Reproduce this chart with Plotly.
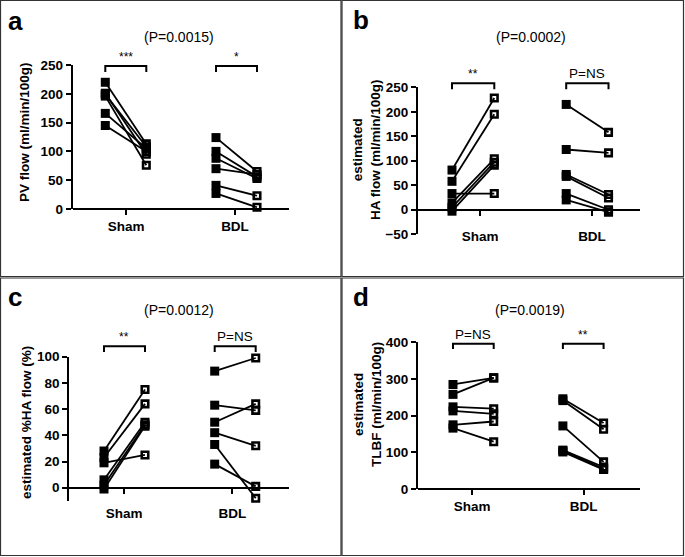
import plotly.graph_objects as go

W, H = 685, 557
FONT = "Liberation Sans, Arial, sans-serif"

groups = ["Sham", "BDL"]

# ---- data (pre = filled square, post = open square) ----
# a: PV flow (ml/min/100g)
a_sham_pre = [220, 201, 196, 166, 145, 199]
a_sham_post = [113, 95, 76, 105, 100, 108]
a_bdl_pre = [124, 100, 88, 70, 41, 27]
a_bdl_post = [65, 56, 53, 60, 23, 3]
# b: estimated HA flow (ml/min/100g)
b_sham_pre = [81, 58, 33, 14, 5, -3]
b_sham_post = [228, 195, 33, 104, 97, 91]
b_bdl_pre = [215, 123, 72, 68, 33, 20]
b_bdl_post = [158, 116, 31, 24, 0, -5]
# c: estimated %HA flow (%)
c_sham_pre = [28, 23, 19, 6, 2, -1]
c_sham_post = [75, 64, 25, 50, 48, 47]
c_bdl_pre = [89, 63, 50, 42, 33, 18]
c_bdl_post = [99, 59, 64, 32, -8, 1]
# d: estimated TLBF (ml/min/100g)
d_sham_pre = [285, 258, 224, 213, 175, 166]
d_sham_post = [303, 303, 219, 205, 184, 129]
d_bdl_pre = [246, 241, 172, 106, 104, 101]
d_bdl_post = [180, 163, 74, 60, 55, 53]

panel_letters = ["a", "b", "c", "d"]
p_titles = ["(P=0.0015)", "(P=0.0002)", "(P=0.0012)", "(P=0.0019)"]
sig_labels = [["***", "*"], ["**", "P=NS"], ["**", "P=NS"], ["P=NS", "**"]]
y_titles = ["PV flow (ml/min/100g)", "estimated<br>HA flow (ml/min/100g)",
            "estimated %HA flow (%)", "estimated<br>TLBF (ml/min/100g)"]
y_ticks = [[0, 50, 100, 150, 200, 250], [-50, 0, 50, 100, 150, 200, 250],
           [0, 20, 40, 60, 80, 100], [0, 100, 200, 300, 400]]
y_ranges = [[0, 250], [-50, 250], [-10, 100], [0, 400]]

data = [
    (a_sham_pre, a_sham_post, a_bdl_pre, a_bdl_post),
    (b_sham_pre, b_sham_post, b_bdl_pre, b_bdl_post),
    (c_sham_pre, c_sham_post, c_bdl_pre, c_bdl_post),
    (d_sham_pre, d_sham_post, d_bdl_pre, d_bdl_post),
]

# x positions of pre/post within each group
XPOS = {"Sham": (0.0, 1.0), "BDL": (2.7, 3.7)}

# layout geometry in pixels
geo = [
    dict(xl=72.7, xr=289, yt=65, yb=209, pre=105.3, unit=41.0, ticks=(126, 235), zero=209, stand=0),
    dict(xl=418, xr=640, yt=87.3, yb=234.2, pre=452, unit=42.3, ticks=(480, 592), zero=209.7, stand=9),
    dict(xl=69.3, xr=288.7, yt=356.7, yb=500.8, pre=104, unit=41.0, ticks=(124, 232.3), zero=487.7, stand=8),
    dict(xl=418, xr=640.3, yt=342.3, yb=489, pre=453, unit=40.7, ticks=(472, 583.7), zero=489, stand=0),
]
# bracket levels (pixels): top line, end of drop
brackets_px = [(66, 72), (83.3, 89.3), (68.3 + 278, 74 + 278), (65.7 + 278, 71 + 278)]
title_pos = [(179, 36.7), (531, 36.7), (179, 309.7), (530, 309.7)]
ytitle_pos = [(25, 132), (366, 149), (26, 423), (367, 405)]
letter_pos = [(6, 21), (351, 20), (6, 297), (351, 297)]

fig = go.Figure()
layout = dict(width=W, height=H,
              margin=dict(l=0, r=0, t=0, b=0, pad=0, autoexpand=False),
              paper_bgcolor="white", plot_bgcolor="white", showlegend=False,
              font=dict(family=FONT, color="black"))
annotations = []
shapes = []


def px(x):
    return x / W


def py(y):
    return 1 - y / H


for i in range(4):
    g = geo[i]
    n = "" if i == 0 else str(i + 1)
    xa, ya = "x" + n, "y" + n
    rng = [(g["xl"] - g["pre"]) / g["unit"], (g["xr"] - g["pre"]) / g["unit"]]
    tv = [(t - g["pre"]) / g["unit"] for t in g["ticks"]]
    layout["xaxis" + n] = dict(
        domain=[px(g["xl"]), px(g["xr"])], range=rng, anchor="free",
        position=py(g["zero"]), tickvals=tv, ticktext=groups,
        showline=True, linewidth=2, linecolor="black", ticks="outside",
        ticklen=5, tickwidth=2, tickcolor="black", showgrid=False, zeroline=False,
        tickfont=dict(family=FONT, size=13.5, color="black", weight="bold"),
        ticklabelstandoff=g["stand"], fixedrange=True, automargin=False)
    layout["yaxis" + n] = dict(
        domain=[py(g["yb"]), py(g["yt"])], range=y_ranges[i], anchor=xa,
        tickvals=y_ticks[i], showline=True, linewidth=2, linecolor="black",
        ticks="outside", ticklen=5, tickwidth=2, tickcolor="black",
        showgrid=False, zeroline=False,
        tickfont=dict(family=FONT, size=13.5, color="black", weight="bold"),
        fixedrange=True, automargin=False)

    sp, so, bp, bo = data[i]
    top_px, drop_px = brackets_px[i]
    for gname, pre, post in (("Sham", sp, so), ("BDL", bp, bo)):
        x0, x1 = XPOS[gname]
        for v0, v1 in zip(pre, post):
            fig.add_trace(go.Scatter(
                x=[x0, x1], y=[v0, v1], xaxis=xa, yaxis=ya, mode="lines+markers",
                line=dict(color="black", width=1.8), cliponaxis=False,
                marker=dict(symbol=["square", "square-open"], size=[9, 6.5],
                            color="black", opacity=1,
                            line=dict(color="black", width=[0, 2.6])),
                hoverinfo="skip"))
        # bracket (paper coords, from axis geometry)
        bx0 = px(g["pre"] + x0 * g["unit"])
        bx1 = px(g["pre"] + x1 * g["unit"])
        yt, yd = py(top_px), py(drop_px)
        shapes.append(dict(type="path", xref="paper", yref="paper",
                           path=f"M {bx0} {yd} L {bx0} {yt} L {bx1} {yt} L {bx1} {yd}",
                           line=dict(color="black", width=2)))
        lab = sig_labels[i][groups.index(gname)]
        annotations.append(dict(x=(bx0 + bx1) / 2, y=yt, xref="paper", yref="paper",
                                text=lab, showarrow=False, xanchor="center",
                                yanchor="bottom", yshift=0,
                                font=dict(family=FONT, size=13.5 if "NS" in lab else 12,
                                          color="black")))

    tx, ty = title_pos[i]
    annotations.append(dict(x=px(tx), y=py(ty), xref="paper", yref="paper",
                            text=p_titles[i], showarrow=False,
                            xanchor="center", yanchor="middle",
                            font=dict(family=FONT, size=14, color="black")))
    yx, yy = ytitle_pos[i]
    annotations.append(dict(x=px(yx), y=py(yy), xref="paper", yref="paper",
                            text=y_titles[i], showarrow=False, textangle=-90,
                            xanchor="center", yanchor="middle",
                            font=dict(family=FONT, size=13.5, color="black", weight="bold")))
    lx, ly = letter_pos[i]
    annotations.append(dict(x=px(lx), y=py(ly), xref="paper", yref="paper",
                            text=panel_letters[i], showarrow=False, xanchor="left",
                            yanchor="middle",
                            font=dict(family=FONT, size=26, color="black", weight="bold")))

# panel frames
for (x0, y0, x1, y1) in [(0.5, 0.5, 341, 276.5), (342, 0.5, 683.5, 276.5),
                         (0.5, 278, 341, 555.5), (342, 278, 683.5, 555.5)]:
    shapes.append(dict(type="rect", xref="paper", yref="paper",
                       x0=px(x0), x1=px(x1), y0=py(y1), y1=py(y0),
                       line=dict(color="#333333", width=1.2)))

layout["annotations"] = annotations
layout["shapes"] = shapes
fig.update_layout(**layout)
fig.write_html("out.html", config={"displayModeBar": False},
               post_script="document.body.style.margin='0';document.body.style.overflow='hidden';")
